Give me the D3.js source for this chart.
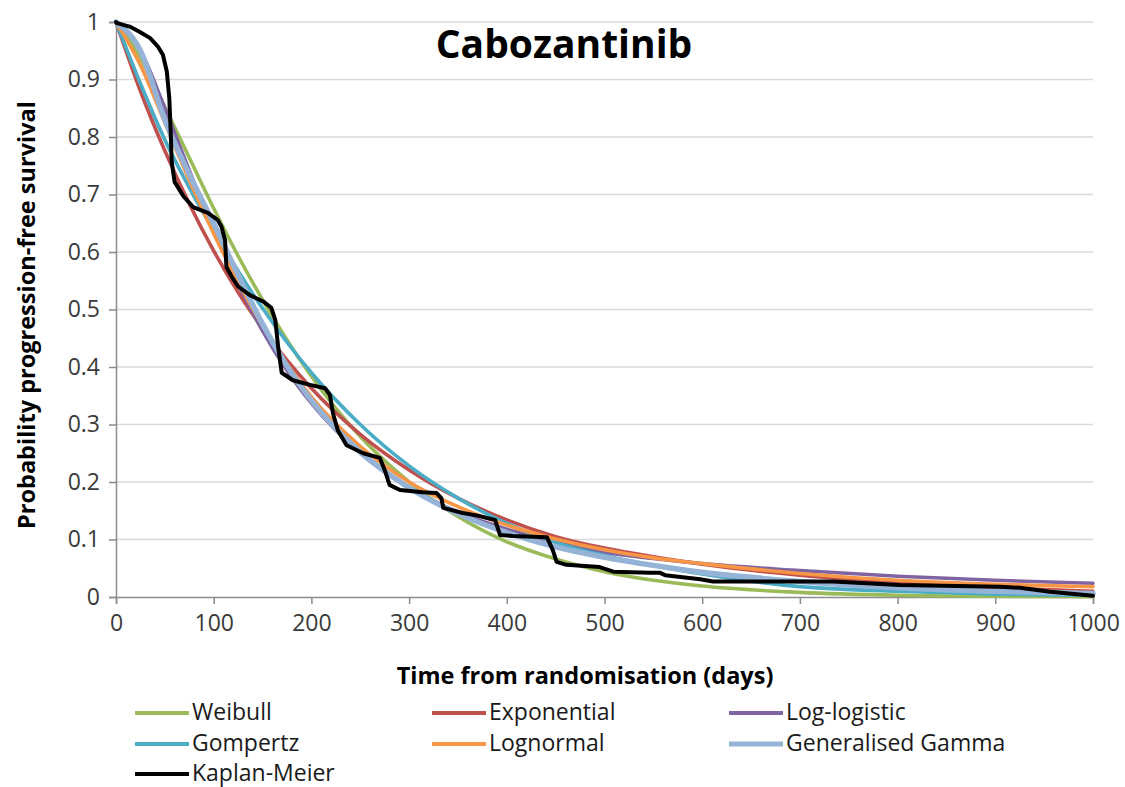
<!DOCTYPE html>
<html>
<head>
<meta charset="utf-8">
<script src="https://cdn.jsdelivr.net/npm/d3@7/dist/d3.min.js"></script>
<style>
  html, body { margin: 0; padding: 0; background: #fff; }
  svg { display: block; }
  text { font-family: "Open Sans", "DejaVu Sans", sans-serif; }
</style>
</head>
<body>
<svg id="chart" width="1125" height="787"></svg>
<script>
// Fitted parametric survival curves, sampled on a common day grid
const days = [0, 25, 50, 75, 100, 125, 150, 175, 200, 250, 300, 350, 400, 450, 500, 550, 600, 700, 800, 900, 1000];

const weibull     = [1, 0.937, 0.852, 0.764, 0.676, 0.593, 0.517, 0.447, 0.384, 0.279, 0.200, 0.140, 0.096, 0.066, 0.044, 0.029, 0.019, 0.008, 0.003, 0.0013, 0.0005];
const exponential = [1, 0.880, 0.776, 0.684, 0.602, 0.530, 0.467, 0.412, 0.363, 0.283, 0.221, 0.172, 0.134, 0.105, 0.085, 0.070, 0.057, 0.038, 0.025, 0.016, 0.010];
const logLogistic = [1, 0.950, 0.850, 0.742, 0.638, 0.545, 0.463, 0.394, 0.337, 0.250, 0.190, 0.148, 0.118, 0.096, 0.078, 0.067, 0.058, 0.046, 0.036, 0.029, 0.024];
const gompertz    = [1, 0.893, 0.795, 0.712, 0.637, 0.567, 0.502, 0.443, 0.390, 0.300, 0.228, 0.172, 0.128, 0.095, 0.072, 0.055, 0.040, 0.018, 0.010, 0.005, 0.003];
const lognormal   = [1, 0.925, 0.825, 0.725, 0.632, 0.548, 0.472, 0.405, 0.348, 0.262, 0.200, 0.157, 0.125, 0.101, 0.082, 0.068, 0.058, 0.041, 0.029, 0.022, 0.018];
const genGamma    = [1, 0.950, 0.830, 0.735, 0.650, 0.560, 0.475, 0.402, 0.342, 0.252, 0.190, 0.145, 0.112, 0.087, 0.069, 0.055, 0.043, 0.027, 0.016, 0.010, 0.006];

// Kaplan-Meier estimate (day, survival)
const kmDays = [0, 1, 14, 24, 35, 43, 48, 52, 54.6, 56, 57, 60, 69, 79, 94, 104, 108, 111.6, 113, 118.5, 125, 137, 150.6, 159, 163, 166, 169.6, 181, 198.6, 214, 219, 222, 227, 236, 253, 270, 275, 280, 290.7, 314, 328, 333, 335, 355, 369, 388, 393, 406, 441, 447, 451, 461, 495, 509, 547, 557, 562, 598, 611, 734, 802, 905, 925, 956, 1000];
const kmSurv = [1, 0.998, 0.992, 0.983, 0.972, 0.957, 0.943, 0.914, 0.867, 0.809, 0.757, 0.722, 0.697, 0.678, 0.668, 0.656, 0.644, 0.621, 0.574, 0.557, 0.540, 0.525, 0.514, 0.503, 0.482, 0.435, 0.390, 0.377, 0.369, 0.363, 0.351, 0.320, 0.290, 0.264, 0.250, 0.242, 0.221, 0.195, 0.186, 0.182, 0.181, 0.172, 0.155, 0.146, 0.142, 0.134, 0.108, 0.106, 0.104, 0.082, 0.061, 0.056, 0.052, 0.044, 0.042, 0.042, 0.038, 0.031, 0.027, 0.027, 0.021, 0.018, 0.016, 0.009, 0.002];

const seriesNames = ["Weibull", "Exponential", "Log-logistic", "Gompertz", "Lognormal", "Generalised Gamma", "Kaplan-Meier"];
const seriesColors = ["#9BBB59", "#C0504D", "#8064A2", "#4BACC6", "#F79646", "#95B3D7", "#000000"];

const xTicks = [0, 100, 200, 300, 400, 500, 600, 700, 800, 900, 1000];
const yTicks = [0, 0.1, 0.2, 0.3, 0.4, 0.5, 0.6, 0.7, 0.8, 0.9, 1];

const chartTitle = "Cabozantinib";
const xTitle = "Time from randomisation (days)";
const yTitle = "Probability progression-free survival";

// ---- layout ----
const W = 1125, H = 787;
const m = { left: 116, right: 32, top: 22, bottom: 190 };
const iw = W - m.left - m.right, ih = H - m.top - m.bottom;

const svg = d3.select("#chart");
const g = svg.append("g").attr("transform", `translate(${m.left},${m.top})`);

const x = d3.scaleLinear().domain([0, 1000]).range([0, iw]);
const y = d3.scaleLinear().domain([0, 1]).range([ih, 0]);

// horizontal gridlines
g.append("g").selectAll("line")
  .data(yTicks.filter(v => v > 0))
  .join("line")
  .attr("x1", 0).attr("x2", iw)
  .attr("y1", d => y(d)).attr("y2", d => y(d))
  .attr("stroke", "#d9d9d9").attr("stroke-width", 1.5);

// axes
const axisColor = "#8c8c8c";
const xAxis = g.append("g").attr("transform", `translate(0,${ih})`)
  .call(d3.axisBottom(x).tickValues(xTicks).tickSize(7).tickPadding(11).tickFormat(d3.format("d")));
const yAxis = g.append("g")
  .call(d3.axisLeft(y).tickValues(yTicks).tickSize(7).tickPadding(9).tickFormat(d => d === 0 ? "0" : d === 1 ? "1" : d3.format(".1f")(d)));

[xAxis, yAxis].forEach(a => {
  a.select(".domain").attr("stroke", axisColor).attr("stroke-width", 1.5);
  a.selectAll(".tick line").attr("stroke", axisColor).attr("stroke-width", 1.5);
  a.selectAll(".tick text").attr("fill", "#3a3a3a").style("font-size", "23px").style("font-family", "'Open Sans', sans-serif");
});

// curves
const fitted = [weibull, exponential, logLogistic, gompertz, lognormal, genGamma];
const widths = [3.6, 3.6, 3.6, 3.6, 3.6, 5.4];
const line = d3.line().x(d => x(d[0])).y(d => y(d[1])).curve(d3.curveMonotoneX);

const curves = g.append("g").attr("fill", "none").attr("stroke-linejoin", "round").attr("stroke-linecap", "round");
fitted.forEach((vals, i) => {
  curves.append("path")
    .datum(days.map((d, j) => [d, vals[j]]))
    .attr("d", line)
    .attr("stroke", seriesColors[i])
    .attr("stroke-width", widths[i]);
});

const kmLine = d3.line().x(d => x(d[0])).y(d => y(d[1]));
curves.append("path")
  .datum(kmDays.map((d, j) => [d, kmSurv[j]]))
  .attr("d", kmLine)
  .attr("stroke", seriesColors[6])
  .attr("stroke-width", 4);

// titles
svg.append("text")
  .attr("x", 564).attr("y", 58)
  .attr("text-anchor", "middle")
  .style("font-size", "39px").style("font-weight", "700")
  .attr("fill", "#000")
  .text(chartTitle);

svg.append("text")
  .attr("x", 585).attr("y", 684)
  .attr("text-anchor", "middle")
  .style("font-size", "23.5px").style("font-weight", "700")
  .attr("fill", "#000")
  .text(xTitle);

svg.append("text")
  .attr("transform", `translate(35,315) rotate(-90)`)
  .attr("text-anchor", "middle")
  .style("font-size", "23.5px").style("font-weight", "700")
  .attr("fill", "#000")
  .text(yTitle);

// legend: three columns, rows of three
const legendCols = [135, 432, 729];
const legendRows = [713, 744, 774];
const lg = svg.append("g");
seriesNames.forEach((name, i) => {
  const cx = legendCols[i % 3], cy = legendRows[Math.floor(i / 3)];
  lg.append("line")
    .attr("x1", cx).attr("x2", cx + 54)
    .attr("y1", cy).attr("y2", cy)
    .attr("stroke", seriesColors[i])
    .attr("stroke-width", i === 5 ? 5 : 4);
  lg.append("text")
    .attr("x", cx + 57).attr("y", cy + 7)
    .style("font-size", "23px")
    .attr("fill", "#1a1a1a")
    .text(name);
});
</script>
</body>
</html>
